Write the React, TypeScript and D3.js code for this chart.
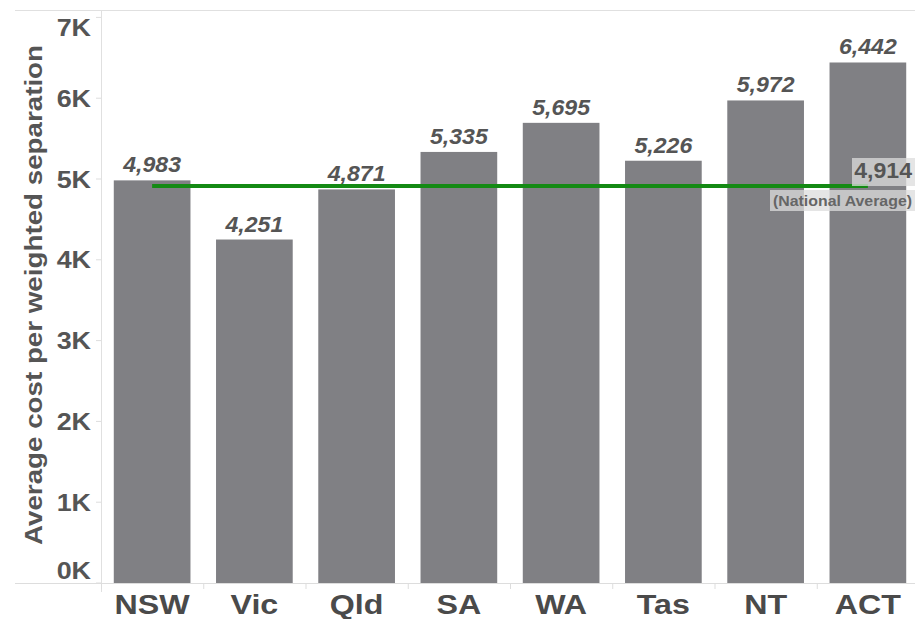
import React, { useEffect, useRef } from 'react';
import * as d3 from 'd3';

const states = ['NSW', 'Vic', 'Qld', 'SA', 'WA', 'Tas', 'NT', 'ACT'];
const costs = [4983, 4251, 4871, 5335, 5695, 5226, 5972, 6442];
const nationalAverage = 4914;
const yTicks = [0, 1000, 2000, 3000, 4000, 5000, 6000, 7000];

const FONT = 'Arial, "Liberation Sans", sans-serif';

export default function App() {
  const ref = useRef<SVGSVGElement>(null);

  useEffect(() => {
    const width = 915;
    const height = 619;
    const left = 101;
    const bottom = 583;

    const svg = d3.select(ref.current);
    svg.selectAll('*').remove();

    const x = d3.scaleBand().domain(states).range([left, 919]).paddingInner(0.25).paddingOuter(0.125);
    const y = d3.scaleLinear().domain([0, 7000]).range([bottom, bottom - 7 * 80.8]);

    // frame lines
    svg.append('line').attr('x1', 15).attr('x2', width).attr('y1', 10.5).attr('y2', 10.5)
      .attr('stroke', '#e0e0e0');
    svg.append('line').attr('x1', left + 0.5).attr('x2', left + 0.5).attr('y1', 10).attr('y2', 592)
      .attr('stroke', '#e0e0e0');

    // y axis ticks + labels (text is a bit wider than Arial in the original, so stretch it)
    const yg = svg.append('g');
    yg.selectAll('line').data(yTicks).enter().append('line')
      .attr('x1', left - 5).attr('x2', left)
      .attr('y1', (d) => y(d)).attr('y2', (d) => y(d))
      .attr('stroke', '#ddd');
    yg.selectAll('text').data(yTicks).enter().append('text')
      .attr('transform', (d) => `translate(91,${Math.min(Math.max(y(d), 27), 570)}) scale(1.12,1)`)
      .attr('dy', '0.36em')
      .attr('text-anchor', 'end')
      .attr('font-family', FONT)
      .attr('font-weight', 'bold')
      .attr('font-size', 24)
      .attr('fill', '#555')
      .text((d) => d3.format('d')(d / 1000) + 'K');

    svg.append('text')
      .attr('transform', `translate(42,295) rotate(-90)`)
      .attr('text-anchor', 'middle')
      .attr('font-family', FONT)
      .attr('font-weight', 'bold')
      .attr('font-size', 24)
      .attr('textLength', 500)
      .attr('lengthAdjust', 'spacingAndGlyphs')
      .attr('fill', '#555')
      .text('Average cost per weighted separation');

    // bars
    svg.append('g').selectAll('rect').data(costs).enter().append('rect')
      .attr('x', (d, i) => x(states[i]) as number)
      .attr('width', x.bandwidth())
      .attr('y', (d) => y(d))
      .attr('height', (d) => bottom - y(d))
      .attr('fill', '#808084');

    // value labels
    svg.append('g').selectAll('text').data(costs).enter().append('text')
      .attr('transform', (d, i) =>
        `translate(${(x(states[i]) as number) + x.bandwidth() / 2},${y(d) - 8}) scale(1.05,1)`)
      .attr('text-anchor', 'middle')
      .attr('font-family', FONT)
      .attr('font-weight', 'bold')
      .attr('font-style', 'italic')
      .attr('font-size', 22)
      .attr('fill', '#555')
      .text((d) => d3.format(',')(d));

    // bottom axis
    svg.append('line').attr('x1', 15).attr('x2', width).attr('y1', bottom + 0.5).attr('y2', bottom + 0.5)
      .attr('stroke', '#ddd');
    svg.append('g').selectAll('line').data(states).enter().append('line')
      .attr('x1', (d) => (x(d) as number) - x.step() * 0.125 + 0.5)
      .attr('x2', (d) => (x(d) as number) - x.step() * 0.125 + 0.5)
      .attr('y1', bottom).attr('y2', bottom + 6)
      .attr('stroke', '#ddd');
    svg.append('g').selectAll('text').data(states).enter().append('text')
      .attr('transform', (d) => `translate(${(x(d) as number) + x.bandwidth() / 2},614) scale(1.15,1)`)
      .attr('text-anchor', 'middle')
      .attr('font-family', FONT)
      .attr('font-weight', 'bold')
      .attr('font-size', 28)
      .attr('fill', '#4a4a4a')
      .text((d) => d);

    // national average line
    const first = (x(states[0]) as number) + x.bandwidth() / 2;
    const last = (x(states[states.length - 1]) as number) + x.bandwidth() / 2;
    svg.append('line')
      .attr('x1', first).attr('x2', last)
      .attr('y1', y(nationalAverage)).attr('y2', y(nationalAverage))
      .attr('stroke', '#148a14')
      .attr('stroke-width', 4);

    // average label
    const lg = svg.append('g');
    lg.append('rect').attr('x', 852).attr('y', 158).attr('width', 63).attr('height', 28)
      .attr('fill', '#dcdcdc').attr('opacity', 0.75);
    lg.append('rect').attr('x', 770).attr('y', 190).attr('width', 145).attr('height', 21)
      .attr('fill', '#dcdcdc').attr('opacity', 0.75);
    lg.append('text')
      .attr('transform', 'translate(912,178) scale(1.05,1)')
      .attr('text-anchor', 'end')
      .attr('font-family', FONT)
      .attr('font-weight', 'bold')
      .attr('font-size', 22)
      .attr('fill', '#555')
      .text(d3.format(',')(nationalAverage));
    lg.append('text')
      .attr('x', 773).attr('y', 206)
      .attr('font-family', FONT)
      .attr('font-weight', 'bold')
      .attr('font-size', 14)
      .attr('textLength', 139)
      .attr('lengthAdjust', 'spacingAndGlyphs')
      .attr('fill', '#666')
      .text('(National Average)');

    svg.attr('width', width).attr('height', height);
  }, []);

  return (
    <svg ref={ref} style={{ position: 'absolute', left: 0, top: 0, background: '#fff' }} />
  );
}
